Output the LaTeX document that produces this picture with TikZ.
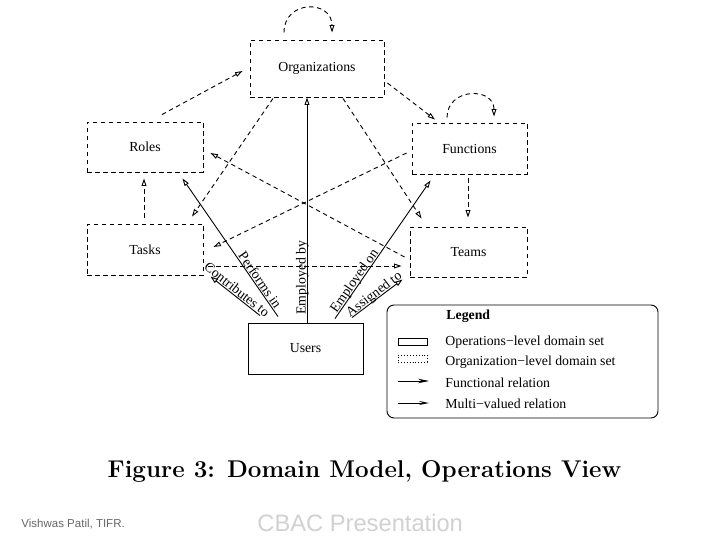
\documentclass[tikz,border=0pt]{standalone}
\usepackage{fontspec}
\newfontfamily\tms{Liberation Serif}
\newfontfamily\arl{Liberation Sans}
\usetikzlibrary{arrows.meta,calc}
\begin{document}
\begin{tikzpicture}[x=1pt,y=-1pt,line width=0.9pt]
\tikzset{
 txt/.style={font=\tms\fontsize{13.8}{16}\selectfont},
 orgbox/.style={txt, draw, dash pattern=on 4.5pt off 3.5pt, inner sep=0pt},
 opbox/.style={txt, draw, inner sep=0pt},
 tipo/.style={-{Triangle[open,length=7.5pt,width=4.8pt]}},
 dsh/.style={tipo, dash pattern=on 4.5pt off 3.5pt},
 rel/.style={tipo},
 lbl/.style={txt, sloped, anchor=base, yshift=1.5pt, inner sep=0pt},
 legtxt/.style={txt, anchor=base west, inner sep=0pt},
}
\path[use as bounding box, fill=white] (0,0) rectangle (720,540);

% domain sets
\node[orgbox, minimum width=134pt, minimum height=57pt] (org) at (317,68.5) {Organizations};
\node[orgbox, minimum width=116pt, minimum height=50pt] (roles) at (145,147) {Roles};
\node[orgbox, minimum width=115pt, minimum height=51pt] (func) at (469.5,148.5) {Functions};
\node[orgbox, minimum width=116pt, minimum height=51pt] (tasks) at (145,249.5) {Tasks};
\node[orgbox, minimum width=117pt, minimum height=50pt] (teams) at (468.5,252) {Teams};
\node[opbox, minimum width=115pt, minimum height=51pt] (users) at (305.5,348.5) {Users};

% self loops
\draw[dsh] ([shift={(-33,-7)}]org.north) .. controls +(0,-33) and +(0,-33) .. ([shift={(15,-7)}]org.north);
\draw[dsh] ([shift={(-22.5,-5)}]func.north) .. controls +(0,-30) and +(0,-30) .. ([shift={(24.5,-6)}]func.north);

% organization-level relations (dashed)
\draw[dsh] ([shift={(17,-7)}]roles.north) -- ([shift={(-7,2.5)}]org.west);
\draw[dsh] ([shift={(3,14.5)}]org.east) -- ([shift={(-34.5,-3)}]func.north);
\draw[dsh] ([shift={(-44,1)}]org.south) -- ([shift={(47,-7)}]tasks.north);
\draw[dsh] ([shift={(26,1)}]org.south) -- ([shift={(12,-8)}]teams.north west);
\draw[dsh] ([shift={(-1.5,4)}]func.south) -- ([shift={(-0.5,-9)}]teams.north);
\draw[dsh] ([shift={(-1,-6)}]tasks.north) -- ([shift={(-1,6)}]roles.south);
\draw[dsh] ([shift={(-5,4.5)}]func.west) -- ([shift={(10,-2.5)}]tasks.east);
\draw[dsh] ([shift={(-5,5)}]teams.west) -- ([shift={(7,6)}]roles.east);
\draw[dsh] ([shift={(5,16.5)}]tasks.east) -- ([shift={(-8,14)}]teams.west);

% operations-level relations (solid)
\draw[rel] ([shift={(-27.5,-6)}]users.north) -- node[lbl, pos=0.24] (lperf) {Performs in} ([shift={(-21,6)}]roles.south east);
\draw[rel] ([shift={(-45.5,-7)}]users.north) -- node[lbl, pos=0.54] (lcont) {Contributes to} ([shift={(7,1)}]tasks.south east);
\draw[rel] ([shift={(1.5,0)}]users.north) -- node[lbl, pos=0.2] (lempb) {Employed by} ([shift={(-10,0)}]org.south);
\draw[rel] ([shift={(29.5,-4)}]users.north) -- node[lbl, pos=0.25] (lempo) {Employed on} ([shift={(19,6)}]func.south west);
\draw[rel] ([shift={(46.5,-5)}]users.north) -- node[lbl, pos=0.5] (lassi) {Assigned to} ([shift={(-7,2)}]teams.south west);

% legend
\node[draw, rounded corners=7pt, minimum width=271pt, minimum height=113pt, inner sep=0pt] (legend) at (522.5,361.5) {};
\node[legtxt] (lhead) at (446,319) {\bfseries Legend};
\node[draw, minimum width=29pt, minimum height=7pt, inner sep=0pt] (lop) at (412.5,341.5) {};
\node[legtxt] (lt1) at (445,345) {Operations−level domain set};
\node[draw, dotted, minimum width=29pt, minimum height=7pt, inner sep=0pt] (lor) at (412.5,358.5) {};
\node[legtxt] (lt2) at (445,365) {Organization−level domain set};
\coordinate (fa) at (398,381);
\coordinate (fb) at (429,381);
\draw[-{Stealth[length=11pt,width=4.5pt]}] (fa) -- (fb);
\node[legtxt] (lt3) at (445,387) {Functional relation};
\coordinate (ma) at (398,403);
\coordinate (mb) at (429,403);
\draw[-{Stealth[open,length=10pt,width=4pt,inset=4pt]}] (ma) -- (mb);
\node[legtxt] (lt4) at (445,408) {Multi−valued relation};

% caption and footer
\node[anchor=base, inner sep=0pt, font=\fontsize{24.2}{28}\selectfont\bfseries] (cap) at (364.5,477) {Figure 3: Domain Model, Operations View};
\node[anchor=base west, inner sep=0pt, text=black!60, font=\arl\fontsize{11.5}{13}\selectfont] (foot1) at (21,527) {Vishwas Patil, TIFR.};
\node[anchor=base west, inner sep=0pt, text=black!18, font=\arl\fontsize{23.7}{27}\selectfont] (foot2) at (257,531) {CBAC Presentation};
\end{tikzpicture}
\end{document}
